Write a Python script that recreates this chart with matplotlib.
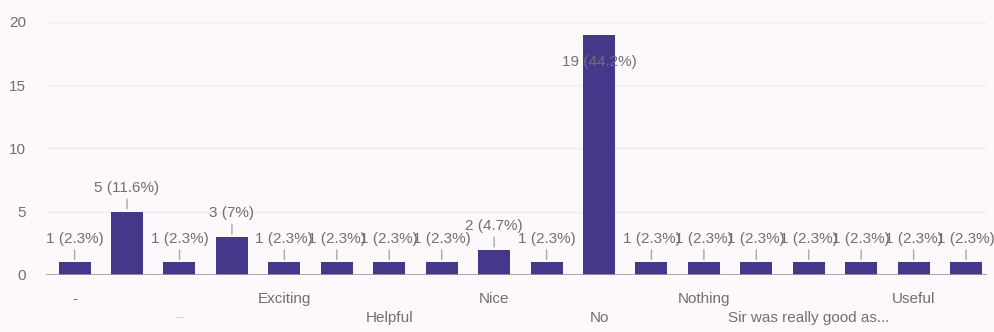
import matplotlib.pyplot as plt
import numpy as np

# Response counts per answer (43 responses in total)
counts = [1, 5, 1, 3, 1, 1, 1, 1, 2, 1, 19, 1, 1, 1, 1, 1, 1, 1]
percents = ["2.3%", "11.6%", "2.3%", "7%", "2.3%", "2.3%", "2.3%", "2.3%", "4.7%",
            "2.3%", "44.2%", "2.3%", "2.3%", "2.3%", "2.3%", "2.3%", "2.3%", "2.3%"]
# only every other category gets a visible label, alternating rows
tick_idx = [0, 2, 4, 6, 8, 10, 12, 14, 16]
tick_labels = ["-", "--", "Exciting", "Helpful", "Nice", "No", "Nothing",
               "Sir was really good as...", "Useful"]

plt.rcParams['font.family'] = ['Liberation Sans', 'DejaVu Sans']

bg = "#fcf8fc"
bar_color = "#45378a"
text_color = "#707070"

fig = plt.figure(figsize=(9.95, 3.32), dpi=100, facecolor=bg)
ax = fig.add_axes([0.046, 0.172, 0.946, 0.762], facecolor=bg)

x = np.arange(len(counts))
ax.bar(x, counts, width=0.61, color=bar_color, zorder=2)

# value labels with a short leader line
for xi, c, p in zip(x, counts, percents):
    label = f"{c} ({p})"
    if c == max(counts):
        ax.annotate(label, (xi, c), xytext=(0, -20), textcoords="offset points",
                    ha="center", va="center", fontsize=11, color=text_color, zorder=3)
    else:
        ax.annotate(label, (xi, c), xytext=(0, 17), textcoords="offset points",
                    ha="center", va="center", fontsize=11, color=text_color, zorder=3,
                    arrowprops=dict(arrowstyle="-", color="#a8a8a8", lw=1,
                                    shrinkA=1, shrinkB=2))

ax.set_xlim(-0.55, 17.4)
ax.set_ylim(0, 20)
ax.set_yticks([0, 5, 10, 15, 20])
ax.yaxis.grid(True, color="#f0ecf0", lw=1, zorder=0)
ax.axhline(0, color="#9a9a9a", lw=1.2, zorder=3)

labels = []
for k, lab in enumerate(tick_labels):
    labels.append(lab if k % 2 == 0 else "\n" + lab)
ax.set_xticks(tick_idx)
ax.set_xticklabels(labels, fontsize=11, color=text_color, linespacing=1.45)
ax.tick_params(axis="x", length=0, pad=12)
ax.tick_params(axis="y", length=0, pad=14, labelsize=11, labelcolor=text_color)
for t in ax.get_xticklabels():
    if t.get_text().strip() == "--":
        t.set_color("#d0ccd0")

for s in ax.spines.values():
    s.set_visible(False)

fig.savefig("out.png", dpi=100, facecolor=bg)
